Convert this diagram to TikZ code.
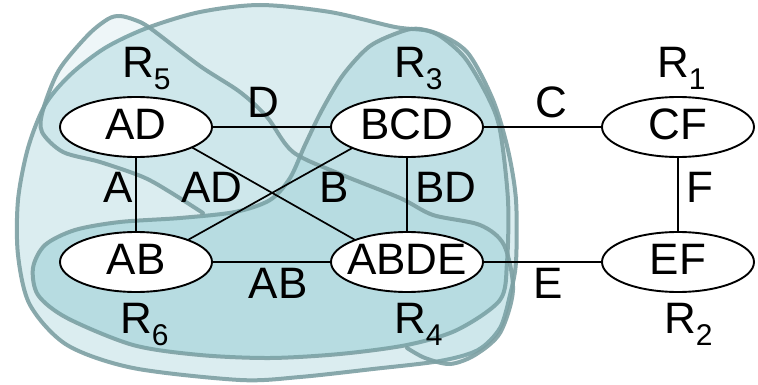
\documentclass[tikz,border=0pt]{standalone}
\usepackage{fontspec}
\setmainfont{Liberation Sans}
\usetikzlibrary{positioning,shapes.geometric}
\definecolor{blobfill}{RGB}{112,185,195}
\definecolor{blobline}{RGB}{125,160,163}
\newcommand{\rname}[1]{R\raisebox{-12pt}{\fontsize{30}{30}\selectfont #1}}

\begin{document}
\begin{tikzpicture}[x=1pt, y=-1pt,
	every node/.style={font=\fontsize{44}{48}\selectfont},
	relnode/.style={ellipse, draw=black, fill=white, line width=1.9pt, minimum width=152pt, minimum height=60pt, inner sep=0pt, outer sep=0pt, text depth=6pt, execute at begin node={\hbox to 0pt\bgroup\hss}, execute at end node={\hss\egroup}},
	edgelabel/.style={inner sep=0pt, anchor=base},
	rlabel/.style={inner sep=0pt, anchor=base west},
	blob/.style={fill=blobfill, fill opacity=0.25, draw=blobline, draw opacity=0.9, line width=4pt, line join=round},
	]
	\useasboundingbox (0,0) rectangle (758,385);

	%Blobs
	\path[blob] plot[smooth cycle] coordinates {(260,5) (330,12) (395,27) (433,32) (467,52) (493,100) (508,150) (516,200) (516,262) (510,295) (500,328) (478,350) (440,361) (373,369) (300,377) (240,380) (133,368) (67,345) (30,305) (18,255) (18,200) (28,148) (45,105) (70,75) (105,48) (147,28) (200,12)};
	\path[blob] plot[smooth cycle] coordinates {(403,31) (370,46) (343,75) (322,110) (305,145) (290,178) (270,200) (235,212) (180,218) (120,222) (75,230) (45,245) (33,268) (38,295) (67,318) (133,345) (200,355) (270,358) (340,354) (407,345) (457,330) (500,300) (507,262) (508,200) (500,130) (488,97) (465,58) (440,36) (420,29)};
	\fill[blobfill, fill opacity=0.12] plot[smooth] coordinates {(203,213) (170,192) (143,177) (100,162) (63,152) (42,132) (43,110) (59,70) (88,35) (108,19) (120,16) (135,20) (150,28) (200,66) (240,92) (267,117) (293,152) (340,174) (400,198) (433,215) (480,225) (504,245) (513,290) (500,333) (475,355) (450,364) (425,358) (407,348)}
		-- plot[smooth] coordinates {(407,346) (340,354) (270,358) (200,355) (133,345) (67,318) (38,295) (33,268) (45,245) (75,230) (120,222) (180,218) (203,216)} -- cycle;
	\draw[blobline, draw opacity=0.9, line width=4pt, line cap=round] plot[smooth] coordinates {(203,213) (170,192) (143,177) (100,162) (63,152) (42,132) (43,110) (59,70) (88,35) (108,19) (120,16) (135,20) (150,28) (200,66) (240,92) (267,117) (293,152) (340,174) (400,198) (433,215) (480,225) (504,245) (513,290) (500,333) (475,355) (450,364) (425,358) (407,348)};

	%Nodes
	\node[relnode] (ad) at (136,127) {AD};
	\node[relnode] (bcd) [right=119pt of ad] {BCD};
	\node[relnode] (cf) [right=119pt of bcd] {CF};
	\node[relnode] (ab) [below=75pt of ad] {AB};
	\node[relnode] (abde) [below=75pt of bcd] {ABDE};
	\node[relnode] (ef) [below=75pt of cf] {EF};

	%Lines
	\draw[line width=1.7pt] (ad) -- (bcd);
	\draw[line width=1.7pt] (bcd) -- (cf);
	\draw[line width=1.7pt] (ad) -- (ab);
	\draw[line width=1.7pt] (bcd) -- (abde);
	\draw[line width=1.7pt] (cf) -- (ef);
	\draw[line width=1.7pt] (ab) -- (abde);
	\draw[line width=1.7pt] (abde) -- (ef);
	\draw[line width=1.7pt] (ad.-20) -- (abde.157);
	\draw[line width=1.7pt] (bcd.201) -- (ab.23);

	%Labels
	\node[edgelabel] (lD) at (263,118) {D};
	\node[edgelabel] (lC) at (551,118) {C};
	\node[edgelabel] (lA) at (118,202) {A};
	\node[edgelabel] (lAD) at (212,202) {AD};
	\node[edgelabel] (lB) at (334,202) {B};
	\node[edgelabel] (lBD) at (446,202) {BD};
	\node[edgelabel] (lF) at (700,202) {F};
	\node[edgelabel] (lAB) at (278,298) {AB};
	\node[edgelabel] (lE) at (548,298) {E};

	\node[rlabel] (r5) at (122,78) {\rname{5}};
	\node[rlabel] (r3) at (394,78) {\rname{3}};
	\node[rlabel] (r1) at (657,78) {\rname{1}};
	\node[rlabel] (r6) at (120,333) {\rname{6}};
	\node[rlabel] (r4) at (394,333) {\rname{4}};
	\node[rlabel] (r2) at (664,333) {\rname{2}};
\end{tikzpicture}
\end{document}
